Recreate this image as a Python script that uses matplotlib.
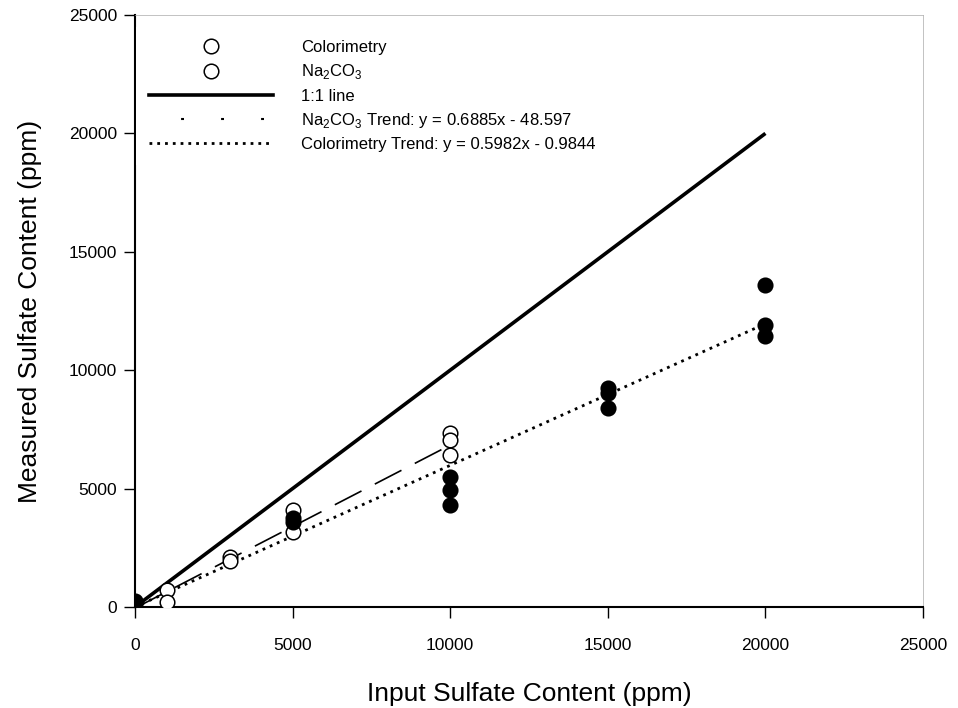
import matplotlib
matplotlib.use('Agg')
import matplotlib.pyplot as plt
from matplotlib.lines import Line2D
import numpy as np

plt.rcParams['font.family'] = ['Liberation Sans', 'DejaVu Sans']
plt.rcParams['mathtext.fontset'] = 'custom'
plt.rcParams['mathtext.rm'] = 'Liberation Sans'

# Colorimetry (filled points)
colx = [0, 0, 0, 5000, 5000, 10000, 10000, 10000, 15000, 15000, 15000, 20000, 20000, 20000]
coly = [150, 200, 250, 3760, 3600, 5490, 4940, 4310, 9250, 9040, 8400, 13600, 11900, 11450]

# Na2CO3 (open points)
nax = [0, 1000, 1000, 3000, 3000, 5000, 5000, 10000, 10000, 10000]
nay = [150, 700, 210, 2100, 1950, 4100, 3150, 7350, 7050, 6400]

# trend equations from the legend
col_slope, col_icpt = 0.5982, -0.9844
na_slope, na_icpt = 0.6885, -48.597

xticks = [0, 5000, 10000, 15000, 20000, 25000]
yticks = [0, 5000, 10000, 15000, 20000, 25000]

fig = plt.figure(figsize=(9.58, 7.08), dpi=100)
ax = fig.add_axes([0.1409, 0.1427, 0.8226, 0.8361])

x11 = np.array([0, 20000])
ax.plot(x11, x11, color='black', lw=2.6, solid_capstyle='butt', zorder=2)

xc = np.array([0, 20000])
ax.plot(xc, col_slope * xc + col_icpt, color='black', lw=2, dashes=(1, 1.8), zorder=2)

xn = np.array([0, 10000])
ax.plot(xn, na_slope * xn + na_icpt, color='black', lw=1.2, dashes=(18, 9), zorder=2)

ax.plot(nax, nay, 'o', ms=10.5, mfc='white', mec='black', mew=1.1, ls='none', zorder=3)
ax.plot(colx, coly, 'o', ms=10.5, mfc='black', mec='black', mew=1.1, ls='none', zorder=4)

ax.set_xlim(0, 25000)
ax.set_ylim(0, 25000)
ax.set_xticks(xticks)
ax.set_yticks(yticks)
ax.tick_params(axis='both', direction='out', length=8, width=1, labelsize=12.5)
ax.tick_params(axis='x', pad=14)
ax.tick_params(axis='y', pad=5)

for s in ['top', 'right']:
    ax.spines[s].set_linewidth(0.5)
    ax.spines[s].set_color('#aaaaaa')
for s in ['left', 'bottom']:
    ax.spines[s].set_linewidth(1.5)

ax.set_xlabel('Input Sulfate Content (ppm)', fontsize=19, labelpad=21)
ax.set_ylabel('Measured Sulfate Content (ppm)', fontsize=19, labelpad=19)

handles = [
    Line2D([], [], marker='o', ms=10.5, mfc='white', mec='black', mew=1.1, ls='none'),
    Line2D([], [], marker='o', ms=10.5, mfc='white', mec='black', mew=1.1, ls='none'),
    Line2D([], [], color='black', lw=2.6),
    Line2D([], [], color='black', lw=1.5, ls=(3.8, (1.4, 17.8))),
    Line2D([], [], color='black', lw=2, dashes=(1, 1.8)),
]
labels = [
    'Colorimetry',
    r'Na$_\mathregular{2}$CO$_\mathregular{3}$',
    '1:1 line',
    r'Na$_\mathregular{2}$CO$_\mathregular{3}$ Trend: y = 0.6885x - 48.597',
    'Colorimetry Trend: y = 0.5982x - 0.9844',
]
leg = ax.legend(handles, labels, loc='upper left', bbox_to_anchor=(0.0015, 0.98),
                borderaxespad=0, borderpad=0.8, fontsize=12, handlelength=7.4,
                handletextpad=1.7, labelspacing=0.43, frameon=True, fancybox=False)
leg.get_frame().set_edgecolor('none')
leg.get_frame().set_facecolor('white')
leg.get_frame().set_alpha(1)

fig.savefig('out.png', dpi=100)
